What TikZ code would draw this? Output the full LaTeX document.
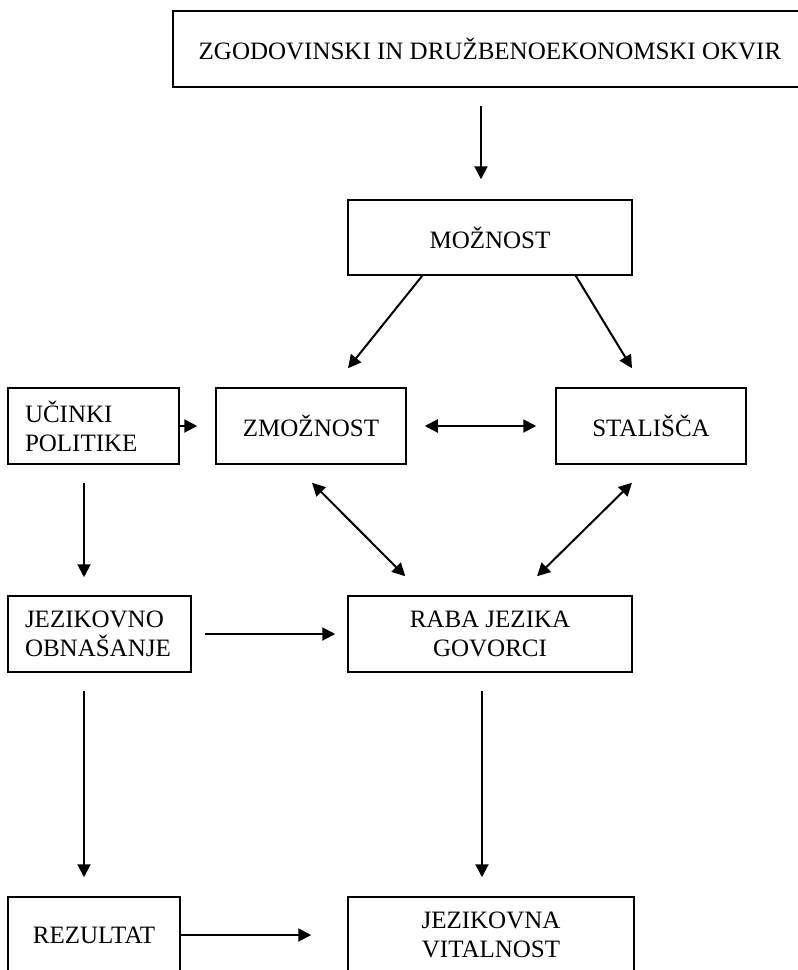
\documentclass[tikz,border=0pt]{standalone}
\usepackage{fontspec}
\setmainfont{Liberation Serif}
\usetikzlibrary{arrows.meta,positioning}
\newcommand\boxfont{\fontsize{25}{29}\selectfont}

\begin{document}
\begin{tikzpicture}[x=1pt, y=-1pt,
  box/.style={draw, line width=1.5pt, inner sep=0pt, minimum height=76pt, align=center, font=\boxfont},
  leftbox/.style={box, inner xsep=17pt, align=left},
  arr/.style={line width=2pt, -{Triangle[length=13pt,width=13pt]}},
  dbl/.style={line width=2pt, {Triangle[length=13pt,width=13pt]}-{Triangle[length=13pt,width=13pt]}}]
\useasboundingbox (0,0) rectangle (798,970);%%
\clip (0,0) rectangle (798,970);%%
% boxes
\node[box, minimum width=634pt] (okvir) at (490,49) {ZGODOVINSKI IN DRUŽBENOEKONOMSKI OKVIR};%%
\node[box, minimum width=284pt, minimum height=75pt] (moznost) at (490,237.5) {MOŽNOST};%%
\node[leftbox, text width=137pt] (ucinki) at (93.5,426) {UČINKI\\POLITIKE};%%
\node[box, minimum width=190pt] (zmoznost) at (311,426) {ZMOŽNOST};%%
\node[box, minimum width=190pt] (stalisca) at (651,426) {STALIŠČA};%%
\node[leftbox, text width=149pt] (obnasanje) at (99.5,634) {JEZIKOVNO\\OBNAŠANJE};%%
\node[box, minimum width=284pt] (raba) at (490,634) {RABA JEZIKA\\GOVORCI};%%
\node[box, minimum width=172pt] (rezultat) at (94,935) {REZULTAT};%%
\node[box, minimum width=286pt] (vitalnost) at (491,935) {JEZIKOVNA\\VITALNOST};%%
% arrows
\draw[arr, shorten <=18pt, shorten >=20pt] ([xshift=-9pt]okvir.south) -- ([xshift=-9pt]moznost.north);%%
\draw[arr] ([xshift=75pt]moznost.south west) -- ([xshift=37pt,yshift=19pt]zmoznost.north);%%
\draw[arr] ([xshift=-57pt]moznost.south east) -- ([xshift=-19pt,yshift=19pt]stalisca.north);%%
\draw[arr, shorten >=18pt] (ucinki.east) -- (ucinki.east -| zmoznost.west);%%
\draw[dbl, shorten <=18pt, shorten >=19pt] (zmoznost.east) -- (stalisca.west);%%
\draw[dbl] ([xshift=1pt,yshift=-18pt]zmoznost.south) -- ([xshift=58pt,yshift=19pt]raba.north west);%%
\draw[dbl] ([xshift=-19pt,yshift=-18pt]stalisca.south) -- ([xshift=47pt,yshift=19pt]raba.north);%%
\draw[arr, shorten <=18pt, shorten >=18pt] ([xshift=-9.5pt]ucinki.south) -- ([xshift=-9.5pt]ucinki.south |- obnasanje.north);%%
\draw[arr, shorten <=13pt, shorten >=12pt] (obnasanje.east) -- (obnasanje.east -| raba.west);%%
\draw[arr, shorten <=18pt, shorten >=19pt] ([xshift=-15.5pt]obnasanje.south) -- ([xshift=-15.5pt]obnasanje.south |- rezultat.north);%%
\draw[arr, shorten <=18pt, shorten >=19pt] ([xshift=-8pt]raba.south) -- ([xshift=-8pt]raba.south |- vitalnost.north);%%
\draw[arr, shorten >=36pt] (rezultat.east) -- (rezultat.east -| vitalnost.west);%%
\end{tikzpicture}
\end{document}
